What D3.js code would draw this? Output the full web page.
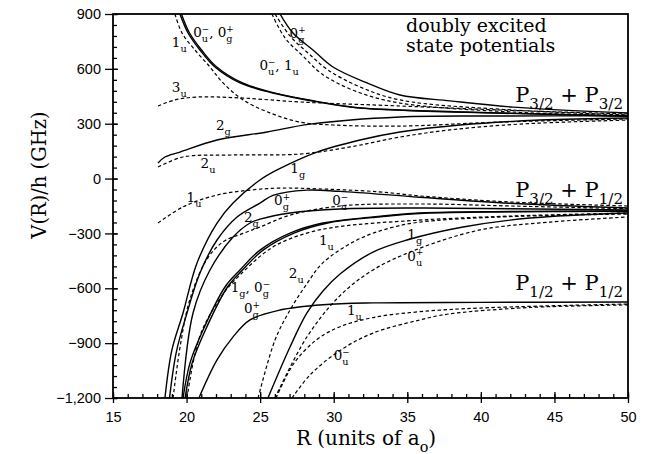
<!DOCTYPE html>
<html>
<head>
<meta charset="utf-8">
<script src="https://cdn.jsdelivr.net/npm/d3@7"></script>
<style>
  body { margin: 0; background: #fff; }
  svg { display: block; }
  text { white-space: pre; }
</style>
</head>
<body>
<script>
// R in units of a0, V in GHz

// P3/2 + P3/2 group
const up0u0gA = [[19.55,900],[20.1,796],[20.91,703],[21.93,610],[23.63,523],[25.87,468],[28.18,430],[31.11,391],[34.5,375],[41.3,359],[50,342]];
const up0u0gB = [[19.65,900],[20.2,796],[21.02,703],[22.05,610],[23.8,523],[26.1,466],[28.5,427],[31.5,389],[35,372],[41.5,357],[50,341]];
const up1u = [[19.21,900],[19.69,796],[20.57,703],[21.59,610],[22.48,523],[23.84,430],[25.67,359],[27.71,309],[29.95,293],[34.5,287],[41.3,309],[50,326]];
const up3u = [[18.06,397],[19.21,430],[20.71,446],[23.63,441],[27.71,419],[34.5,397],[41.3,375],[50,353]];
const up2g = [[18.06,85],[18.53,118],[19.55,145],[22.07,211],[25.47,255],[28.39,298],[34.5,337],[41.3,342],[50,343]];
const up2u = [[18.06,63],[19.76,118],[23.16,129],[27.71,134],[31.11,173],[34.5,227],[37.9,266],[42.66,298],[50,320]];
const up0gPlus = [[26.35,900],[27.23,796],[28.59,703],[29.95,610],[32.26,523],[34.5,457],[37.9,425],[42.18,391],[50,359]];
const up0uMinus = [[26.01,900],[27.03,780],[28.25,687],[29.61,594],[31.79,501],[34.5,430],[42.18,375],[50,348]];
const up1uR = [[25.8,900],[26.69,769],[27.91,670],[29.2,572],[31.45,479],[34.5,413],[42.18,364],[50,342]];

// P3/2 + P1/2 group
const mid1g = [[18.53,-1200],[19.0,-938],[19.76,-735],[20.71,-462],[22.07,-243],[23.16,-134],[24.99,-8],[26.15,47],[28.86,145],[31.79,211],[34.5,255],[38.58,293],[44.02,320],[50,331]];
const mid0gPlus = [[18.84,-1200],[19.3,-950],[20.03,-735],[20.91,-516],[22.07,-336],[23.43,-210],[24.99,-134],[25.87,-92],[28.18,-63],[30.43,-70],[35.86,-102],[42,-135],[50,-161]];
const mid1u = [[18.06,-243],[19.76,-155],[22.07,-90],[24.31,-63],[26.35,-52],[28.5,-55],[33,-72],[35.86,-95],[42,-128],[50,-150]];
const mid0uMinus = [[19.08,-1200],[19.6,-900],[20.23,-660],[21.39,-440],[22.5,-345],[23.84,-300],[24.99,-265],[27.03,-200],[30.43,-150],[35.86,-139],[42,-150],[50,-165]];
const mid2g = [[19.69,-1200],[20.44,-735],[21.59,-500],[23.16,-320],[24.31,-243],[24.99,-222],[27.03,-188],[30.43,-166],[35.86,-161],[42,-165],[50,-172]];
const mid1g0gA = [[19.76,-1200],[20.23,-1009],[21.12,-828],[22.61,-593],[23.63,-500],[24.99,-391],[27.03,-298],[29.27,-243],[32.67,-210],[35.86,-188],[42,-180],[50,-177]];
const mid1g0gB = [[19.9,-1200],[20.38,-1009],[21.28,-828],[22.78,-593],[23.8,-500],[25.2,-391],[27.3,-298],[29.6,-243],[33,-210],[36.2,-190],[42,-182],[50,-179]];
const mid1uLow = [[20.03,-1200],[20.91,-860],[22.41,-640],[23.63,-527],[25.87,-374],[28.18,-298],[30.43,-262],[35.86,-227],[42,-205],[50,-188]];
const mid2u = [[24.86,-1200],[26.01,-883],[27.03,-719],[28.18,-575],[29.27,-460],[31.58,-336],[33.83,-270],[35.86,-238],[41.3,-210],[50,-194]];
const mid1gLow = [[25.53,-1200],[27.03,-921],[28.18,-735],[29.27,-615],[30.43,-522],[32.67,-402],[34.98,-336],[38.79,-265],[43.34,-216],[50,-188]];
const mid0uPlus = [[26.01,-1200],[28.18,-866],[30.43,-640],[32.67,-500],[35.53,-391],[39.94,-281],[44.7,-238],[50,-210]];

// P1/2 + P1/2 group
const low0gPlus = [[20.84,-1200],[22.07,-992],[23.16,-866],[24.31,-773],[26.35,-719],[29.27,-690],[32.67,-680],[40,-677],[50,-675]];
const low1u = [[26.08,-1200],[27.3,-1010],[28.86,-880],[30.43,-810],[32.67,-760],[35.86,-728],[39.94,-708],[50,-686]];
const low0uMinus = [[27.17,-1200],[28.39,-1074],[30.43,-940],[32.67,-845],[35.86,-773],[37.7,-742],[43.34,-705],[50,-691]];

const solidCurves = [up0u0gA, up0u0gB, up2g, up0gPlus, mid1g, mid0gPlus, mid2g, mid1g0gA, mid1g0gB, mid1gLow, low0gPlus];
const dashedCurves = [up1u, up3u, up2u, up0uMinus, up1uR, mid1u, mid0uMinus, mid1uLow, mid2u, mid0uPlus, low1u, low0uMinus];

const xTicks = [15, 20, 25, 30, 35, 40, 45, 50];
const yTicks = [-1200, -900, -600, -300, 0, 300, 600, 900];

// curve labels: [text, R, V]
const curveLabels = [
  ["0_u^−, 0_g^+", 20.45, 774],
  ["1_u", 19.0, 720],
  ["0_g^+", 27.0, 769],
  ["0_u^−, 1_u", 24.95, 594],
  ["3_u", 19.0, 473],
  ["2_g", 22.0, 266],
  ["2_u", 20.95, 58],
  ["1_g", 27.05, 30],
  ["1_u", 20.0, -128],
  ["0_g^+", 25.95, -145],
  ["0_u^−", 29.9, -145],
  ["2_g", 23.9, -238],
  ["1_u", 29.0, -363],
  ["1_g", 35.0, -330],
  ["0_u^+", 35.0, -450],
  ["2_u", 26.95, -544],
  ["1_g, 0_g^−", 23.0, -620],
  ["0_g^+", 23.9, -735],
  ["1_u", 30.9, -746],
  ["0_u^−", 30.0, -992]
];
const limitLabels = [
  ["P_{3/2} + P_{3/2}", 419],
  ["P_{3/2} + P_{1/2}", -101],
  ["P_{1/2} + P_{1/2}", -609]
];
const titleLines = ["doubly excited", "state potentials"];

const W = 652, H = 454;
const pl = 113, pr = 628, pt = 14, pb = 398;
const serif = "'DejaVu Serif', serif";
const sans = "'Liberation Sans', Arial, sans-serif";

const svg = d3.select("body").append("svg").attr("width", W).attr("height", H);

const x = d3.scaleLinear().domain([15, 50]).range([pl, pr]);
const y = d3.scaleLinear().domain([-1200, 900]).range([pb, pt]);

svg.append("clipPath").attr("id", "plot")
  .append("rect").attr("x", pl).attr("y", pt)
  .attr("width", pr - pl).attr("height", pb - pt);

const line = d3.line().x(d => x(d[0])).y(d => y(d[1])).curve(d3.curveCatmullRom.alpha(0.5));

const curves = svg.append("g").attr("clip-path", "url(#plot)").attr("fill", "none").attr("stroke", "#000");
curves.selectAll("path.solid").data(solidCurves).enter().append("path")
  .attr("class", "solid").attr("d", line).attr("stroke-width", 1.4);
curves.selectAll("path.dash").data(dashedCurves).enter().append("path")
  .attr("class", "dash").attr("d", line).attr("stroke-width", 1.2)
  .attr("stroke-dasharray", "3.5,2.5");

// axes
function clean(g) { g.select(".domain").remove(); g.selectAll("line").attr("stroke", "#000").attr("stroke-width", 1.3); }

svg.append("g").attr("transform", `translate(${pl},0)`)
  .call(d3.axisLeft(y).tickValues(d3.range(-1200, 901, 60)).tickSize(-4).tickFormat(""))
  .call(clean);
svg.append("g").attr("transform", `translate(${pl},0)`)
  .call(d3.axisLeft(y).tickValues(yTicks).tickSize(-5).tickFormat(""))
  .call(clean);
svg.append("g").attr("transform", `translate(${pl},0)`)
  .call(d3.axisLeft(y).tickValues(yTicks).tickSize(8).tickPadding(4))
  .call(clean)
  .call(g => g.selectAll("text").style("font-family", sans).style("font-size", "14.5px").attr("fill", "#000"));

svg.append("g").attr("transform", `translate(0,${pb})`)
  .call(d3.axisBottom(x).tickValues(d3.range(15, 50.1, 1)).tickSize(-4).tickFormat(""))
  .call(clean);
svg.append("g").attr("transform", `translate(0,${pb})`)
  .call(d3.axisBottom(x).tickValues(xTicks).tickSize(-6).tickFormat(""))
  .call(clean);
svg.append("g").attr("transform", `translate(0,${pb})`)
  .call(d3.axisBottom(x).tickValues(xTicks).tickSize(5).tickPadding(9))
  .call(clean)
  .call(g => g.selectAll("text").style("font-family", sans).style("font-size", "14.5px").attr("fill", "#000"));

svg.append("rect").attr("x", pl).attr("y", pt)
  .attr("width", pr - pl).attr("height", pb - pt)
  .attr("fill", "none").attr("stroke", "#000").attr("stroke-width", 1.8);

// text with sub/superscripts: "0_u^-" style
function richText(px, py, str, size, anchor) {
  const g = svg.append("g").style("font-family", serif).attr("fill", "#000");
  const re = /_(\{[^}]*\}|.)|\^(\{[^}]*\}|.)|([^_^]+)/g;
  const items = [];
  let m;
  while ((m = re.exec(str))) {
    if (m[3] !== undefined) items.push({ t: m[3], sub: "", sup: "" });
    else if (m[1] !== undefined) items[items.length - 1].sub = m[1].replace(/[{}]/g, "");
    else items[items.length - 1].sup = m[2].replace(/[{}]/g, "");
  }
  let cx = 0;
  items.forEach(it => {
    const b = g.append("text").attr("x", cx).attr("y", 0)
      .style("font-size", size + "px").text(it.t.replace(/ /g, "\u00a0"));
    cx += b.node().getComputedTextLength();
    let w = 0;
    if (it.sub) {
      const s = g.append("text").attr("x", cx).attr("y", size * 0.35)
        .style("font-size", (size * 0.72) + "px").text(it.sub);
      w = s.node().getComputedTextLength();
    }
    if (it.sup) {
      const s = g.append("text").attr("x", cx).attr("y", -size * 0.4)
        .style("font-size", (size * 0.65) + "px").text(it.sup);
      w = Math.max(w, s.node().getComputedTextLength());
    }
    cx += w;
  });
  const dx = anchor === "end" ? -cx : anchor === "middle" ? -cx / 2 : 0;
  g.attr("transform", `translate(${px + dx},${py})`);
  return g;
}

curveLabels.forEach(d => richText(x(d[1]), y(d[2]), d[0], 13.5, "start"));
limitLabels.forEach(d => richText(623, y(d[1]), d[0], 21, "end"));

svg.selectAll("text.title").data(titleLines).enter().append("text")
  .attr("class", "title")
  .attr("x", 406).attr("y", (d, i) => 32 + i * 20)
  .style("font-family", serif).style("font-size", "19px")
  .text(d => d);

richText(366, 445, "R (units of a_o)", 20, "middle");

svg.append("text")
  .attr("transform", "translate(46,175) rotate(-90)")
  .attr("text-anchor", "middle")
  .style("font-family", serif).style("font-size", "19.5px")
  .text("V(R)/h (GHz)");
</script>
</body>
</html>
